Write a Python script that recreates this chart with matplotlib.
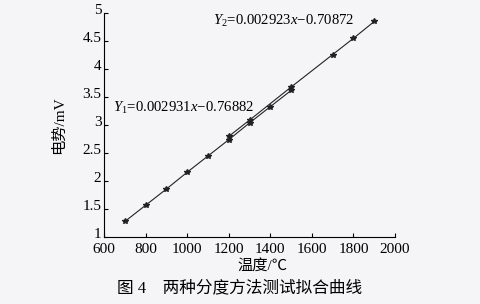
import matplotlib
matplotlib.use('Agg')
import matplotlib.pyplot as plt
import matplotlib.transforms as mtransforms
from matplotlib.ticker import FormatStrFormatter

plt.rcParams['mathtext.fontset'] = 'custom'
plt.rcParams['mathtext.rm'] = 'Liberation Serif'
plt.rcParams['mathtext.it'] = 'Liberation Serif:italic'

# 数据
x1 = [700, 800, 900, 1000, 1100, 1200, 1300, 1400, 1500]
y1 = [1.28, 1.57, 1.86, 2.16, 2.45, 2.74, 3.04, 3.33, 3.62]
x2 = [1200, 1300, 1500, 1700, 1800, 1900]
y2 = [2.80, 3.09, 3.68, 4.26, 4.55, 4.85]
xticks = [600, 800, 1000, 1200, 1400, 1600, 1800, 2000]
yticks = [1, 1.5, 2, 2.5, 3, 3.5, 4, 4.5, 5]

bg = '#f5f5f7'
mixed = ['Liberation Serif', 'Noto Sans CJK SC']
serif = 'Liberation Serif'

fig = plt.figure(figsize=(4.8, 3.04), dpi=100, facecolor=bg)
ax = fig.add_axes([0.217, 0.22, 0.606, 0.737], facecolor=bg)

ax.plot(x1, y1, '-*', color='#222222', lw=0.8, ms=4)
ax.plot(x2, y2, '-*', color='#222222', lw=0.8, ms=4)

ax.set_xlim(600, 2000)
ax.set_ylim(1, 5)
ax.set_xticks(xticks)
ax.set_yticks(yticks)
ax.yaxis.set_major_formatter(FormatStrFormatter('%g'))
ax.tick_params(direction='in', length=3, width=0.8, labelsize=11, pad=2)
ax.tick_params(axis='x', pad=4)
for lab in ax.get_xticklabels() + ax.get_yticklabels():
    lab.set_fontfamily(serif)
# y 刻度标签略微上移
shift = mtransforms.ScaledTranslation(0, 3 / 72, fig.dpi_scale_trans)
for lab in ax.get_yticklabels():
    lab.set_transform(lab.get_transform() + shift)
ax.spines['top'].set_visible(False)
ax.spines['right'].set_visible(False)

ax.text(1123, 4.79, r'$Y_2$=0.002923$x$−0.70872', fontsize=10.6, family=serif)
ax.text(643, 3.23, r'$Y_1$=0.002931$x$−0.76882', fontsize=10.6, family=serif)

ax.set_ylabel('电势/mV', family=mixed, fontsize=11)
ax.yaxis.set_label_coords(-0.13, 0.5)
ax.set_xlabel('温度/℃', family=mixed, fontsize=11)
ax.xaxis.set_label_coords(0.543, -0.098)

fig.text(0.5, 0.038, '图 4    两种分度方法测试拟合曲线', family=mixed, fontsize=12,
         ha='center')

plt.savefig('out.png', dpi=100, facecolor=bg)
